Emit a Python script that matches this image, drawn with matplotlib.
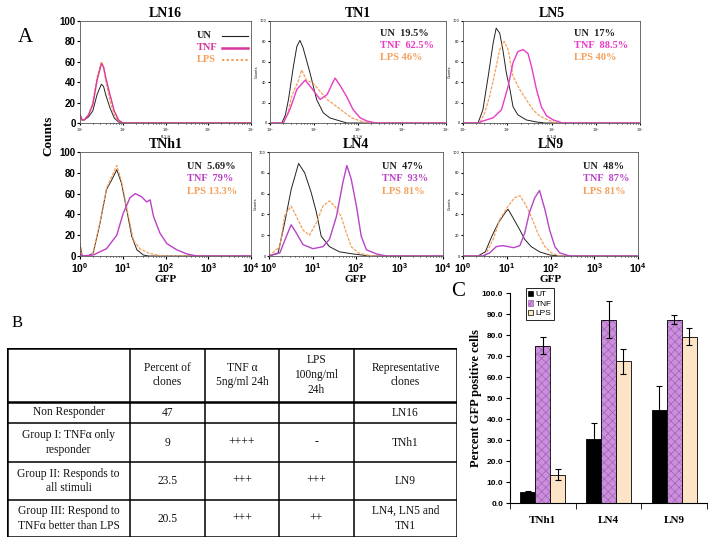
"""Composite figure: GFP histograms (A), clone summary table (B), bar chart (C)."""

import matplotlib
matplotlib.use("Agg")
import matplotlib.pyplot as plt
from matplotlib.patches import Patch
import numpy as np

plt.rcParams['mathtext.fontset'] = 'custom'
plt.rcParams['mathtext.rm'] = 'Liberation Sans'
plt.rcParams['mathtext.bf'] = 'Liberation Sans:bold'
plt.rcParams['hatch.linewidth'] = 0.5

SERIF = 'Liberation Serif'
SANS = 'Liberation Sans'

# ---- panel A data: histogram curves, x in decades (log10 GFP), y in counts (% of frame)
ln16_x = [0, 0.05, 0.1, 0.2, 0.3, 0.4, 0.5, 0.55, 0.6, 0.7, 0.8, 0.9, 1.0, 4.0]
ln16_un = [8, 3, 3, 6, 12, 28, 38, 36, 28, 15, 5, 1, 0, 0]
ln16_tnf = [8, 3, 3, 8, 18, 42, 58, 55, 45, 28, 12, 3, 0, 0]
ln16_lps = [8, 3, 3, 8, 20, 45, 60, 56, 42, 22, 8, 2, 0, 0]

tn1_un_x = [0, 0.27, 0.35, 0.42, 0.53, 0.61, 0.68, 0.75, 0.91, 1.06, 1.21, 1.36, 1.59, 1.75, 4]
tn1_un_y = [0, 0, 8, 23, 55, 75, 81, 74, 49, 23, 10, 5, 2, 0, 0]
tn1_tnf_x = [0, 0.3, 0.45, 0.61, 0.80, 0.95, 1.14, 1.30, 1.42, 1.48, 1.59, 1.74, 1.89, 2.05, 2.2, 2.4, 4]
tn1_tnf_y = [0, 0, 13, 33, 42, 34, 23, 28, 39, 44, 37, 26, 13, 5, 2, 0, 0]
tn1_lps_x = [0, 0.3, 0.4, 0.49, 0.64, 0.72, 0.83, 0.98, 1.14, 1.30, 1.52, 1.70, 1.86, 2.05, 2.25, 4]
tn1_lps_y = [0, 0, 8, 26, 41, 52, 42, 39, 31, 23, 16, 10, 5, 2, 0, 0]

ln5_un_x = [0, 0.34, 0.45, 0.57, 0.68, 0.75, 0.83, 0.90, 0.98, 1.06, 1.13, 1.24, 1.43, 1.66, 1.85, 4]
ln5_un_y = [0, 0, 13, 46, 78, 93, 88, 72, 49, 33, 16, 8, 3, 1, 0, 0]
ln5_tnf_x = [0, 0.35, 0.45, 0.68, 0.87, 1.02, 1.13, 1.24, 1.36, 1.47, 1.55, 1.66, 1.77, 1.89, 2.04, 2.25, 4]
ln5_tnf_y = [0, 0, 2, 5, 13, 36, 59, 70, 72, 68, 55, 33, 16, 7, 3, 0, 0]
ln5_lps_x = [0, 0.38, 0.49, 0.60, 0.72, 0.83, 0.93, 1.02, 1.13, 1.28, 1.43, 1.58, 1.73, 1.92, 2.1, 4]
ln5_lps_y = [0, 0, 10, 26, 49, 72, 80, 72, 46, 33, 23, 13, 7, 3, 0, 0]

tnh1_un_x = [0, 0.05, 0.19, 0.31, 0.47, 0.62, 0.74, 0.86, 0.97, 1.09, 1.21, 1.33, 1.48, 1.6, 4]
tnh1_un_y = [12, 0, 0, 3, 32, 64, 73, 83, 70, 45, 19, 6, 1, 0, 0]
tnh1_tnf_x = [0, 0.05, 0.31, 0.62, 0.86, 1.01, 1.17, 1.29, 1.44, 1.56, 1.64, 1.72, 1.87, 2.03, 2.26, 2.5, 2.73, 4]
tnh1_tnf_y = [3, 0, 1, 7, 20, 41, 56, 60, 57, 52, 54, 38, 22, 12, 6, 2, 0, 0]
tnh1_lps_x = [0, 0.05, 0.19, 0.31, 0.47, 0.62, 0.74, 0.86, 0.97, 1.09, 1.25, 1.40, 1.60, 1.79, 1.95, 4]
tnh1_lps_y = [12, 0, 0, 3, 33, 65, 76, 87, 72, 47, 15, 7, 3, 1, 0, 0]

ln4_un_x = [0, 0.21, 0.36, 0.51, 0.68, 0.82, 0.97, 1.09, 1.20, 1.39, 1.62, 1.93, 2.31, 4]
ln4_un_y = [0, 3, 32, 64, 89, 80, 61, 42, 19, 9, 4, 2, 0, 0]
ln4_tnf_x = [0, 0.25, 0.40, 0.51, 0.63, 0.78, 1.01, 1.24, 1.39, 1.55, 1.70, 1.79, 1.89, 2.01, 2.12, 2.24, 2.47, 2.7, 4]
ln4_tnf_y = [0, 3, 19, 30, 22, 11, 7, 9, 16, 38, 71, 87, 74, 48, 19, 6, 2, 0, 0]
ln4_lps_x = [0, 0.25, 0.36, 0.51, 0.63, 0.78, 0.93, 1.09, 1.24, 1.39, 1.51, 1.66, 1.78, 1.89, 2.05, 2.24, 2.4, 4]
ln4_lps_y = [0, 9, 39, 48, 38, 25, 20, 32, 48, 53, 48, 38, 22, 9, 3, 1, 0, 0]

ln9_un_x = [0, 0.34, 0.51, 0.66, 0.81, 0.97, 1.03, 1.14, 1.30, 1.41, 1.56, 1.75, 1.98, 2.2, 4]
ln9_un_y = [0, 0, 4, 19, 32, 42, 45, 37, 25, 16, 9, 4, 1, 0, 0]
ln9_tnf_x = [0, 0.45, 0.61, 0.76, 0.91, 1.16, 1.30, 1.41, 1.52, 1.64, 1.75, 1.87, 1.98, 2.10, 2.21, 2.44, 4]
ln9_tnf_y = [0, 0, 3, 9, 10, 8, 10, 22, 42, 56, 63, 45, 25, 9, 3, 0, 0]
ln9_lps_x = [0, 0.5, 0.69, 0.84, 1.03, 1.18, 1.30, 1.41, 1.56, 1.71, 1.87, 2.02, 2.21, 4]
ln9_lps_y = [0, 0, 16, 35, 48, 56, 58, 51, 38, 22, 9, 3, 0, 0]

percent_un = ['', '19.5%', '17%', '5.69%', '47%', '48%']
percent_tnf = ['', '62.5%', '88.5%', '79%', '93%', '87%']
percent_lps = ['', '46%', '40%', '13.3%', '81%', '81%']

# ---- panel B data
table_header = ['', 'Percent of\nclones', 'TNF \u03b1\n5ng/ml 24h', 'LPS\n100ng/ml\n24h',
                'Representative\nclones']
table_groups = ['Non Responder', 'Group I: TNF\u03b1 only\nresponder',
                'Group II: Responds to\nall stimuli', 'Group III: Respond to\nTNF\u03b1 better than LPS']
table_percent = ['47', '9', '23.5', '20.5']
table_tnf = ['', '++++', '+++', '+++']
table_lps = ['', '-', '+++', '++']
table_clones = ['LN16', 'TNh1', 'LN9', 'LN4, LN5 and\nTN1']

# ---- panel C data
clones = ['TNh1', 'LN4', 'LN9']
ut_mean = [5.6, 30.6, 44.2]
ut_err = [0.4, 7.5, 11.6]
tnf_mean = [75.0, 87.5, 87.5]
tnf_err = [4.0, 9.0, 2.2]
lps_mean = [13.6, 67.7, 79.4]
lps_err = [2.5, 6.0, 4.2]

W, H = 714, 548
fig = plt.figure(figsize=(W / 100, H / 100), dpi=100)


def px_axes(x0, y0, x1, y1):
    return fig.add_axes([x0 / W, 1 - y1 / H, (x1 - x0) / W, (y1 - y0) / H])


UN_C = '#222222'
LPS_C = '#f4a05c'


def draw_hist(ax, title, un, tnf, lps, tnf_c, idx, big_y, big_x):
    ax.plot(10 ** np.array(un[0]), un[1], color=UN_C, lw=0.7)
    ax.plot(10 ** np.array(lps[0]), lps[1], color=LPS_C, lw=0.9, ls=(0, (2.5, 1)))
    ax.plot(10 ** np.array(tnf[0]), tnf[1], color=tnf_c, lw=1.0)
    ax.set_xscale('log')
    ax.set_xlim(1, 1e4)
    ax.set_ylim(0, 100)
    ax.set_title(title, fontsize=10, fontfamily=SERIF, fontweight='bold', pad=3)
    for s in ax.spines.values():
        s.set_linewidth(0.6)
        s.set_color('#555555')
    ax.set_yticks(np.arange(0, 101, 20))
    ax.set_xticks([1, 10, 100, 1000, 10000])
    if big_y:
        ax.tick_params(axis='y', labelsize=7, length=2, pad=1)
        for t in ax.get_yticklabels():
            t.set_fontweight('bold')
            t.set_fontfamily(SANS)
    else:
        ax.tick_params(axis='y', labelsize=2.5, length=1.5, pad=1)
        ax.set_ylabel('Counts', fontsize=2.5, labelpad=1)
    if big_x:
        ax.set_xticklabels([r'$\mathbf{10^{%d}}$' % k for k in range(5)])
        ax.tick_params(axis='x', which='major', labelsize=7.5, length=2, pad=2)
        ax.set_xlabel('GFP', fontsize=8, fontfamily=SERIF, fontweight='bold', labelpad=0)
    else:
        ax.tick_params(axis='x', which='major', labelsize=2.5, length=1.5, pad=1)
        ax.set_xlabel('FL1-H', fontsize=2.5, labelpad=0.5)
    ax.tick_params(axis='x', which='minor', length=1, labelbottom=False)
    # percentage annotations
    if percent_un[idx]:
        tx = 0.625 if idx < 4 else (0.65 if idx == 4 else 0.685)
        ty = [0.88, 0.76, 0.645] if idx < 3 else [0.865, 0.745, 0.625]
        ax.text(tx, ty[0], 'UN  ' + percent_un[idx], transform=ax.transAxes, color=UN_C,
                fontsize=7.5, fontfamily=SERIF, fontweight='bold', va='center')
        ax.text(tx, ty[1], 'TNF  ' + percent_tnf[idx], transform=ax.transAxes, color=tnf_c,
                fontsize=7.5, fontfamily=SERIF, fontweight='bold', va='center')
        ax.text(tx, ty[2], 'LPS ' + percent_lps[idx], transform=ax.transAxes, color=LPS_C,
                fontsize=7.5, fontfamily=SERIF, fontweight='bold', va='center')


ax1 = px_axes(80, 21, 251, 123)
draw_hist(ax1, 'LN16', (ln16_x, ln16_un), (ln16_x, ln16_tnf), (ln16_x, ln16_lps),
          '#d8389a', 0, True, False)
# legend of LN16
for lab, c, ls, lw, yy in [('UN', UN_C, '-', 0.8, 0.855), ('TNF', '#d8389a', '-', 1.8, 0.74),
                           ('LPS', LPS_C, (0, (1.2, 1.2)), 1.4, 0.62)]:
    ax1.text(0.685, yy, lab, transform=ax1.transAxes, color=c, fontsize=7.5,
             fontfamily=SERIF, fontweight='bold', va='center')
    ax1.plot([0.83, 0.985], [yy, yy], transform=ax1.transAxes, color=c, ls=ls, lw=lw)

ax2 = px_axes(270, 21, 446, 123)
draw_hist(ax2, 'TN1', (tn1_un_x, tn1_un_y), (tn1_tnf_x, tn1_tnf_y), (tn1_lps_x, tn1_lps_y),
          '#e83cc4', 1, False, False)
ax3 = px_axes(463, 21, 640, 123)
draw_hist(ax3, 'LN5', (ln5_un_x, ln5_un_y), (ln5_tnf_x, ln5_tnf_y), (ln5_lps_x, ln5_lps_y),
          '#e83cc8', 2, False, False)
ax4 = px_axes(80, 152, 251, 256)
draw_hist(ax4, 'TNh1', (tnh1_un_x, tnh1_un_y), (tnh1_tnf_x, tnh1_tnf_y), (tnh1_lps_x, tnh1_lps_y),
          '#bb40c4', 3, True, True)
ax5 = px_axes(269, 152, 443, 256)
draw_hist(ax5, 'LN4', (ln4_un_x, ln4_un_y), (ln4_tnf_x, ln4_tnf_y), (ln4_lps_x, ln4_lps_y),
          '#b844c8', 4, False, True)
ax6 = px_axes(463, 152, 638, 256)
draw_hist(ax6, 'LN9', (ln9_un_x, ln9_un_y), (ln9_tnf_x, ln9_tnf_y), (ln9_lps_x, ln9_lps_y),
          '#b844c8', 5, False, True)

fig.text(48 / W, 1 - 136 / H, 'Counts', rotation=90, fontsize=9.5, fontfamily=SERIF,
         fontweight='bold', ha='center', va='center')
fig.text(25 / W, 1 - 38 / H, 'A', fontsize=15, fontfamily=SERIF, ha='center', va='center')
fig.text(17 / W, 1 - 323 / H, 'B', fontsize=12, fontfamily=SERIF, ha='center', va='center')
fig.text(458 / W, 1 - 292 / H, 'C', fontsize=15, fontfamily=SERIF, ha='center', va='center')

# ---- panel B: table
axt = px_axes(7, 348, 457, 537)
col_w = [123, 75, 74, 75, 103]
row_h = [54, 21, 39, 38, 37]
col_e = np.concatenate([[0], np.cumsum(col_w)])
row_e = np.concatenate([[0], np.cumsum(row_h)])
axt.set_xlim(0, col_e[-1])
axt.set_ylim(row_e[-1], 0)
axt.axis('off')
for i, x in enumerate(col_e):
    axt.plot([x, x], [0, row_e[-1]], color='black', lw=1.8 if i in (0, len(col_e) - 1) else 1.1,
             solid_capstyle='projecting')
for j, y in enumerate(row_e):
    axt.plot([0, col_e[-1]], [y, y], color='black', lw=1.8 if j in (0, 1, len(row_e) - 1) else 1.1,
             solid_capstyle='projecting')
rows = [table_header] + [[table_groups[k], table_percent[k], table_tnf[k], table_lps[k],
                          table_clones[k]] for k in range(4)]
for r, row in enumerate(rows):
    yc = (row_e[r] + row_e[r + 1]) / 2
    for c, txt in enumerate(row):
        xc = (col_e[c] + col_e[c + 1]) / 2
        axt.text(xc, yc, txt, ha='center', va='center', fontsize=8.3, fontfamily=SERIF,
                 linespacing=1.3, color='#111111')

# ---- panel C: bar chart
axc = px_axes(510, 293.3, 707, 503.3)
xc = np.arange(len(clones))
bw = 0.228
ekw = dict(ecolor='black', elinewidth=0.8, capsize=2.5, capthick=0.8)
axc.bar(xc - bw, ut_mean, bw, color='black', edgecolor='black', lw=0.6, yerr=ut_err, error_kw=ekw)
axc.bar(xc, tnf_mean, bw, color='#cc8fdc', edgecolor='#a062b4', hatch='xxxx', lw=0)
axc.bar(xc, tnf_mean, bw, fill=False, edgecolor='black', lw=0.6, yerr=tnf_err, error_kw=ekw)
axc.bar(xc + bw, lps_mean, bw, color='#fde4c6', edgecolor='black', lw=0.6, yerr=lps_err,
        error_kw=ekw)
axc.set_xlim(-0.5, 2.5)
axc.set_ylim(0, 100)
axc.spines['top'].set_visible(False)
axc.spines['right'].set_visible(False)
axc.set_yticks(np.arange(0, 101, 10))
axc.set_yticklabels(['%.1f' % v for v in np.arange(0, 101, 10)], fontfamily=SANS,
                    fontweight='bold', fontsize=6)
axc.set_xticks(xc)
axc.set_xticklabels(clones, fontfamily=SERIF, fontweight='bold', fontsize=8)
axc.set_xticks(np.arange(-0.5, 2.6, 1), minor=True)
axc.tick_params(axis='x', which='major', length=0, pad=9)
axc.tick_params(axis='x', which='minor', length=4, direction='out')
axc.tick_params(axis='y', length=3, pad=2)
axc.set_ylabel('Percent GFP positive cells', fontfamily=SERIF, fontweight='bold', fontsize=9,
               labelpad=0)
handles = [Patch(facecolor='black', edgecolor='black', lw=0.5),
           Patch(facecolor='#cc8fdc', edgecolor='#a062b4', hatch='xxxx', lw=0.5),
           Patch(facecolor='#fde4c6', edgecolor='black', lw=0.5)]
leg = axc.legend(handles, ['UT', 'TNF', 'LPS'], loc='upper left', bbox_to_anchor=(0.08, 1.025),
                 prop={'family': SANS, 'size': 6}, handlelength=0.6, handleheight=0.6,
                 handletextpad=0.3, labelspacing=0.25, borderpad=0.3, borderaxespad=0,
                 fancybox=False, framealpha=1, edgecolor='black')
leg.get_frame().set_linewidth(0.6)

fig.savefig('out.png', dpi=100)
